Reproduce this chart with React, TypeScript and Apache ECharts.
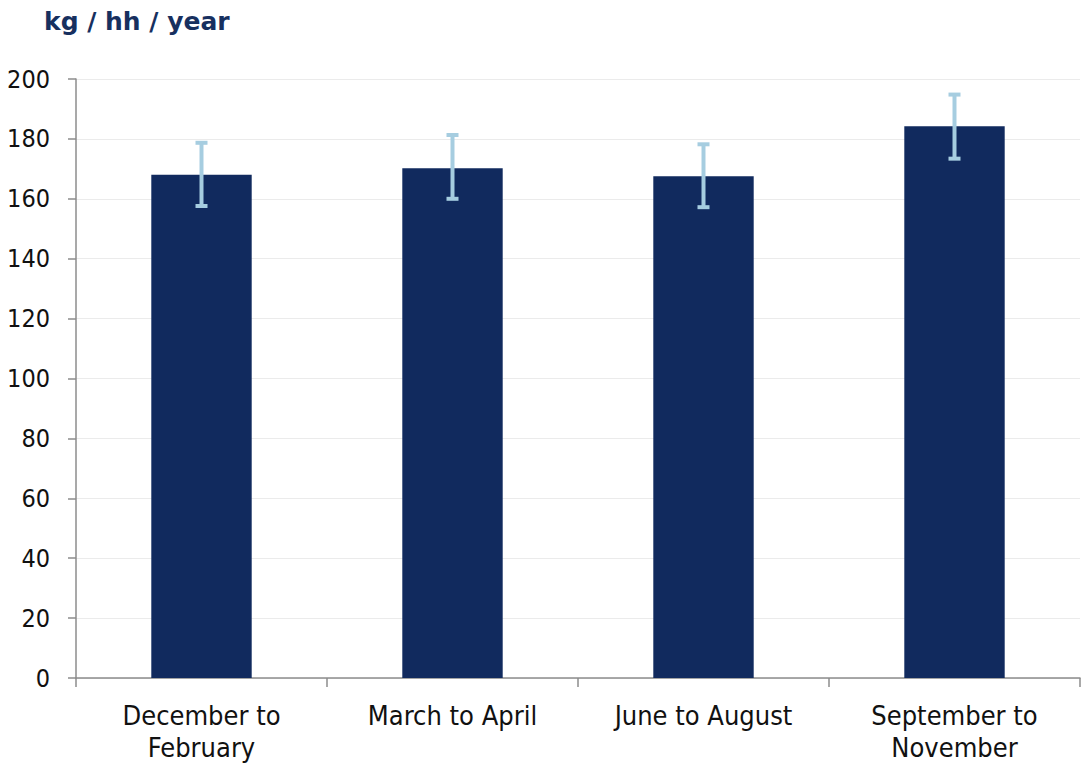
import React, { useEffect, useRef } from "react";
import * as echarts from "echarts";

const categories = ["December to\nFebruary", "March to April", "June to August", "September to\nNovember"];
const values = [168, 170.2, 167.5, 184.2];
const errLow = [157.6, 160, 157.2, 173.4];
const errHigh = [178.7, 181.3, 178.2, 194.8];
const yTicks = { min: 0, max: 200, interval: 20 };

export default function App() {
  const ref = useRef<HTMLDivElement>(null);
  useEffect(() => {
    document.body.style.margin = "0";
    const chart = echarts.init(ref.current!, undefined, { renderer: "svg" });
    const tickFont = "'DejaVu Sans Condensed', 'DejaVu Sans', sans-serif";
    chart.setOption({
      animation: false,
      backgroundColor: "#ffffff",
      title: {
        text: "kg / hh / year",
        left: 39,
        top: 4,
        textStyle: {
          fontFamily: "'DejaVu Sans', Verdana, sans-serif",
          fontWeight: "bold",
          fontSize: 25,
          color: "#17305f",
        },
      },
      grid: { left: 76, right: 6, top: 79, bottom: 87 },
      xAxis: {
        type: "category",
        data: categories,
        axisLine: { lineStyle: { color: "#8c8c8c", width: 1.5 } },
        axisTick: { show: true, length: 9, alignWithLabel: false, lineStyle: { color: "#8c8c8c", width: 1.5 } },
        axisLabel: {
          color: "#111",
          fontFamily: tickFont,
          fontSize: 27,
          lineHeight: 32,
          margin: 21,
          interval: 0,
        },
      },
      yAxis: {
        type: "value",
        min: yTicks.min,
        max: yTicks.max,
        interval: yTicks.interval,
        axisLine: { show: true, lineStyle: { color: "#8c8c8c", width: 1.5 } },
        axisTick: { show: true, length: 8, lineStyle: { color: "#8c8c8c", width: 1.5 } },
        splitLine: { show: true, lineStyle: { color: "#ebebeb", width: 1 } },
        axisLabel: {
          color: "#111",
          fontFamily: tickFont,
          fontSize: 25,
          margin: 26,
        },
      },
      series: [
        {
          type: "bar",
          data: values,
          barWidth: "40%",
          itemStyle: { color: "#112a5e" },
        },
        {
          type: "custom",
          data: values.map((_, i) => [i, errLow[i], errHigh[i]]),
          z: 10,
          renderItem: (params: any, api: any) => {
            const x = api.value(0);
            const lo = api.coord([x, api.value(1)]);
            const hi = api.coord([x, api.value(2)]);
            const half = 6;
            const style = { stroke: "#a6cde0", lineWidth: 4 };
            return {
              type: "group",
              children: [
                { type: "line", shape: { x1: hi[0], y1: hi[1], x2: lo[0], y2: lo[1] }, style },
                { type: "line", shape: { x1: hi[0] - half, y1: hi[1], x2: hi[0] + half, y2: hi[1] }, style },
                { type: "line", shape: { x1: lo[0] - half, y1: lo[1], x2: lo[0] + half, y2: lo[1] }, style },
              ],
            };
          },
        },
      ],
    });
    return () => chart.dispose();
  }, []);
  return <div ref={ref} style={{ width: 1086, height: 765 }} />;
}
